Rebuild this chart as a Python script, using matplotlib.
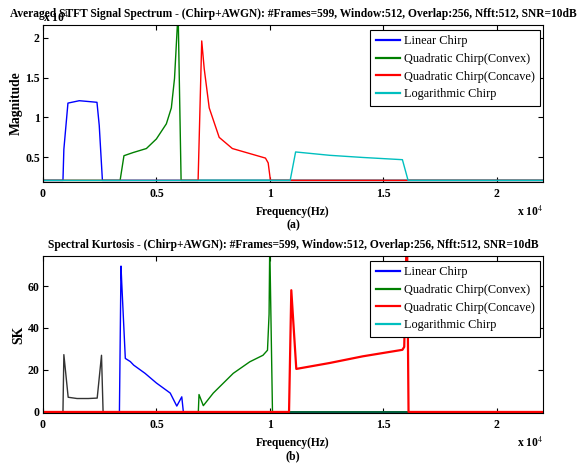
import matplotlib
matplotlib.use("Agg")
import matplotlib.pyplot as plt
from matplotlib.lines import Line2D

plt.rcParams['font.family'] = ['Liberation Serif', 'DejaVu Serif']
plt.rcParams['mathtext.fontset'] = 'stix'

# ---------------- data (frequency in Hz) ----------------
FMAX = 22050
X_TICKS = [0, 5000, 10000, 15000, 20000]
X_TICK_LABELS = ["0", "0.5", "1", "1.5", "2"]

# Panel (a): averaged STFT magnitude
lin_f = [0, 880, 920, 1100, 1600, 2000, 2380, 2480, 2620, 22050]
lin_m = [0.21, 0.21, 0.6, 1.18, 1.21, 1.20, 1.19, 0.9, 0.21, 0.21]

cvx_f = [0, 3400, 3570, 3980, 4560, 5000, 5440, 5660, 5800, 5920, 5960, 6090, 22050]
cvx_m = [0.21, 0.21, 0.52, 0.56, 0.61, 0.73, 0.92, 1.12, 1.49, 2.13, 2.3, 0.21, 0.21]

ccv_f = [0, 6840, 7000, 7110, 7330, 7770, 8350, 9080, 9810, 9930, 10030, 22050]
ccv_m = [0.21, 0.21, 1.96, 1.61, 1.12, 0.75, 0.61, 0.55, 0.49, 0.43, 0.21, 0.21]

log_f = [0, 10900, 11140, 12640, 14100, 15850, 16100, 22050]
log_m = [0.21, 0.21, 0.567, 0.525, 0.498, 0.47, 0.21, 0.21]

# Panel (b): spectral kurtosis
sk0_f = [0, 880, 920, 1110, 1500, 2000, 2390, 2580, 2650, 22050]
sk0_v = [0, 0, 27.3, 7.0, 6.4, 6.4, 6.6, 27.0, 0, 0]

sk1_f = [0, 3370, 3440, 3470, 3630, 3850, 4000, 4500, 5000, 5610, 5900, 6120, 6190, 22050]
sk1_v = [0, 0, 69.5, 62, 25.5, 24, 22.3, 18.4, 13.8, 9.0, 2.8, 7.2, 0, 0]

sk2_f = [0, 6850, 6880, 7070, 7510, 8390, 9120, 9700, 9900, 9970, 10000, 10120, 22050]
sk2_v = [0, 0, 8.3, 3.0, 9.0, 18.4, 23.9, 27.0, 29.4, 46.6, 80, 0, 0]

sk3_f = [0, 10850, 10950, 11170, 12630, 14100, 15850, 15930, 16050, 16120, 22050]
sk3_v = [0, 0, 58.0, 20.5, 23.3, 26.5, 29.6, 31.0, 90, 0, 0]

sk4_f = [0, 22050]
sk4_v = [0, 0]

LEGEND_LABELS = ["Linear Chirp", "Quadratic Chirp(Convex)",
                 "Quadratic Chirp(Concave)", "Logarithmic Chirp"]
COLORS = ["#0000ff", "#008000", "#ff0000", "#00bfbf"]

TITLE_A = "Averaged STFT Signal Spectrum - (Chirp+AWGN): #Frames=599, Window:512, Overlap:256, Nfft:512, SNR=10dB"
TITLE_B = "Spectral Kurtosis - (Chirp+AWGN): #Frames=599, Window:512, Overlap:256, Nfft:512, SNR=10dB"

# ---------------- figure ----------------
W, H = 580, 467
fig = plt.figure(figsize=(W / 100, H / 100), dpi=100)

def px_axes(l, t, r, b):
    return fig.add_axes([l / W, 1 - b / H, (r - l) / W, (b - t) / H])

axA = px_axes(43, 25, 543, 182)
axB = px_axes(43, 256, 543, 413)

lw = 1.0
axA.plot(lin_f, lin_m, color=COLORS[0], lw=lw)
axA.plot(cvx_f, cvx_m, color=COLORS[1], lw=lw)
axA.plot(ccv_f, ccv_m, color=COLORS[2], lw=lw)
axA.plot(log_f, log_m, color=COLORS[3], lw=lw)
axA.set_ylim(0.19, 2.16)
axA.set_yticks([0.5, 1, 1.5, 2])
axA.set_yticklabels(["0.5", "1", "1.5", "2"])

axB.plot(sk4_f, sk4_v, color=COLORS[3], lw=lw)
axB.plot(sk0_f, sk0_v, color="#333333", lw=lw)
axB.plot(sk1_f, sk1_v, color=COLORS[0], lw=lw)
axB.plot(sk2_f, sk2_v, color=COLORS[1], lw=lw)
axB.plot(sk3_f, sk3_v, color=COLORS[2], lw=1.6)
axB.set_ylim(-0.5, 74.3)
axB.set_yticks([0, 20, 40, 60])
axB.set_yticklabels(["0", "20", "40", "60"])

handles = [Line2D([], [], color=c, lw=1.6) for c in COLORS]

for ax, title, ylabel, tag, ypad in [(axA, TITLE_A, "Magnitude", "(a)", 1.5),
                                     (axB, TITLE_B, "SK", "(b)", 2.0)]:
    ax.set_xlim(0, FMAX)
    ax.set_xticks(X_TICKS)
    ax.set_xticklabels(X_TICK_LABELS)
    ax.tick_params(direction='in', top=True, right=True, length=3.5,
                   width=0.8, labelsize=8.5)
    ax.tick_params(axis='x', pad=4)
    ax.tick_params(axis='y', pad=2.3)
    for lab in ax.get_xticklabels() + ax.get_yticklabels():
        lab.set_fontweight('bold')
    for s in ax.spines.values():
        s.set_linewidth(0.8)
    ax.set_title(title, fontsize=8.3, fontweight='bold', pad=6)
    ax.set_ylabel(ylabel, fontsize=9.8, fontweight='bold', labelpad=ypad)
    ax.set_xlabel("Frequency(Hz)", fontsize=8.3, fontweight='bold', labelpad=4.5)
    ax.text(0.5, -43 / 157, tag, transform=ax.transAxes, ha='center',
            va='center', fontsize=8.5, fontweight='bold')
    ax.text(1.0, -30 / 157, "x 10$^{4}$", transform=ax.transAxes, ha='right',
            va='center', fontsize=8.4, fontweight='bold')
    leg = ax.legend(handles, LEGEND_LABELS, loc='upper right',
                    bbox_to_anchor=(0.994, 0.97), borderaxespad=0,
                    fontsize=8.8, frameon=True, fancybox=False,
                    edgecolor='black', framealpha=1, handlelength=2.0,
                    handletextpad=0.3, labelspacing=0.47, borderpad=0.45)
    leg.get_frame().set_linewidth(0.8)

axA.text(0.0, 1.0, "x 10$^{4}$", transform=axA.transAxes, ha='left',
         va='bottom', fontsize=8.4, fontweight='bold')

fig.savefig("out.png", dpi=100)
